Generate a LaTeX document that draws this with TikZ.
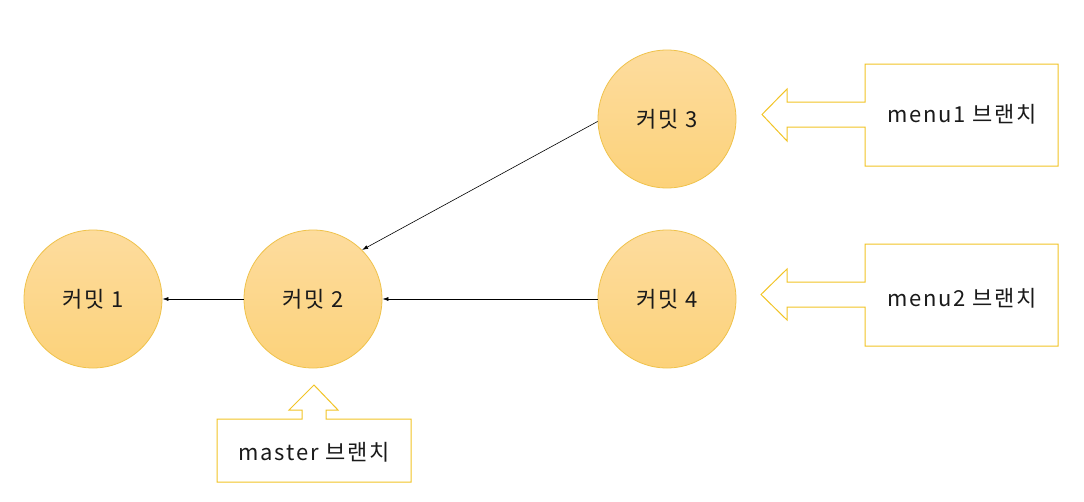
\documentclass[tikz,border=0pt]{standalone}
\usepackage{fontspec}
\setmainfont[LetterSpace=8]{Noto Sans CJK KR}
\usetikzlibrary{arrows.meta}
\definecolor{circtop}{HTML}{FDDC9E}
\definecolor{circbot}{HTML}{FCD27A}
\definecolor{circedge}{HTML}{EFC24A}
\definecolor{callout}{HTML}{F2C425}
\definecolor{txt}{HTML}{1A1A1A}
\tikzset{
  commit/.style={circle, minimum size=138pt, inner sep=0pt, draw=circedge, line width=0.8pt,
    top color=circtop, bottom color=circbot, text=txt, font=\fontsize{22}{25}\selectfont},
  link/.style={draw=black, line width=0.6pt, -{Latex[length=6pt,width=4pt]}},
  branchshape/.style={draw=callout, line width=1pt, fill=white, line join=miter},
  branchtext/.style={text=txt, font=\fontsize{22}{25}\selectfont, inner sep=0pt}
}
\begin{document}
\begin{tikzpicture}[x=1pt,y=-1pt]
\useasboundingbox (0,0) rectangle (1084,501);
% commits
\node[commit] (c1) at (93,299) {커밋 1};
\node[commit] (c2) at (313,299) {커밋 2};
\node[commit] (c3) at (667,119) {커밋 3};
\node[commit] (c4) at (667,299) {커밋 4};
% connectors
\draw[link] (c2.west) -- (c1.east);
\draw[link] (c4.west) -- (c2.east);
\draw[link] (c3.182) -- (c2.45);
% menu1 callout
\draw[branchshape] (865,102) -- (865,64) -- (1058,64) -- (1058,166) -- (865,166) -- (865,127)
  -- (787,127) -- (787,141) -- (762,114.5) -- (787,89) -- (787,102) -- cycle;
\node[branchtext] (b1) at (962,114) {menu1 브랜치};
% menu2 callout
\draw[branchshape] (865,282) -- (865,244) -- (1058,244) -- (1058,346) -- (865,346) -- (865,307)
  -- (787,307) -- (787,320) -- (761,294.5) -- (787,269) -- (787,282) -- cycle;
\node[branchtext] (b2) at (962,298) {menu2 브랜치};
% master callout
\draw[branchshape] (302,419) -- (217,419) -- (217,482) -- (411,482) -- (411,419) -- (326,419)
  -- (326,410) -- (338,410) -- (314,385) -- (289,410) -- (302,410) -- cycle;
\node[branchtext] (b3) at (314,452) {master 브랜치};
\end{tikzpicture}
\end{document}
